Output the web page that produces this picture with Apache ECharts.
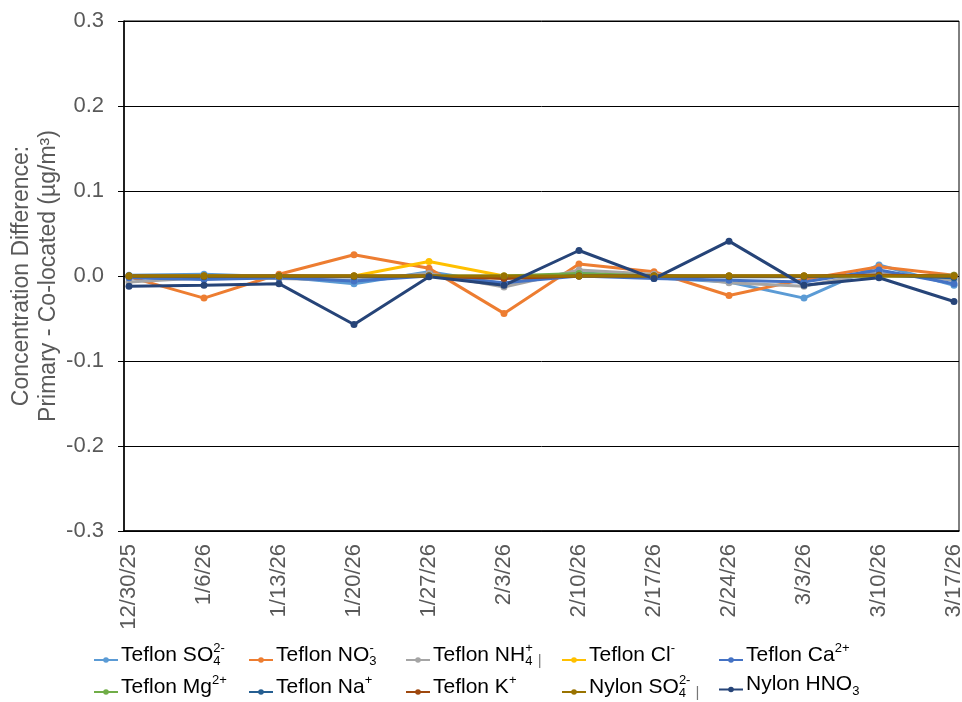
<!DOCTYPE html>
<html>
<head>
<meta charset="utf-8">
<script src="https://cdn.jsdelivr.net/npm/echarts@6/dist/echarts.min.js"></script>
<style>
  html, body { margin: 0; padding: 0; background: #fff; }
  #chart { width: 962px; height: 702px; }
</style>
</head>
<body>
<div id="chart"></div>
<script>
// Sampling dates (weekly)
const dates = ['12/30/25', '1/6/26', '1/13/26', '1/20/26', '1/27/26', '2/3/26',
               '2/10/26', '2/17/26', '2/24/26', '3/3/26', '3/10/26', '3/17/26'];

// Primary minus co-located concentration differences (µg/m³)
const teflonSO4 = [0.001, 0.002, -0.001, -0.009, 0.005, -0.009, 0.004, -0.002, -0.007, -0.026, 0.013, -0.011];
const teflonNO3 = [-0.001, -0.026, 0.002, 0.025, 0.009, -0.044, 0.014, 0.005, -0.023, -0.004, 0.011, 0.001];
const teflonNH4 = [-0.007, -0.002, -0.003, -0.005, 0.003, -0.013, 0.007, 0.002, -0.008, -0.012, 0.005, -0.005];
const teflonCl  = [0, 0, 0, 0, 0.017, 0, 0, 0, 0, 0, 0, 0];
const teflonCa  = [-0.002, -0.004, -0.002, -0.006, 0, -0.008, 0, -0.003, -0.005, -0.007, 0.007, -0.009];
const teflonMg  = [0, 0, 0, 0, 0, 0, 0.003, 0, 0, 0, 0, 0.001];
const teflonNa  = [0, -0.001, 0, -0.001, 0, -0.002, 0, 0, -0.001, -0.001, 0.001, -0.002];
const teflonK   = [0, 0, 0, 0, 0, -0.003, 0, 0, 0, 0, 0.001, 0];
const nylonSO4  = [0, 0, 0, 0, 0, 0, 0, 0, 0, 0, 0, 0];
const nylonHNO3 = [-0.012, -0.011, -0.009, -0.057, -0.001, -0.011, 0.030, -0.003, 0.041, -0.011, -0.002, -0.030];

// Y-axis tick range
const yTicks = [-0.3, -0.2, -0.1, 0.0, 0.1, 0.2, 0.3];

const FONT = '"Liberation Sans", Arial, sans-serif';

// Series definitions: key, rich-text legend label (subscript stacked under superscript), colour, values
const seriesDefs = [
  { name: 'Teflon SO4',  label: '{t|Teflon SO}{sub|4}{sup|2-}',  color: '#5B9BD5', data: teflonSO4 },
  { name: 'Teflon NO3',  label: '{t|Teflon NO}{sub|3}{sup|-}',   color: '#ED7D31', data: teflonNO3 },
  { name: 'Teflon NH4',  label: '{t|Teflon NH}{sub|4}{sup|+}{bar||}', color: '#A5A5A5', data: teflonNH4 },
  { name: 'Teflon Cl',   label: '{t|Teflon Cl}{sup|-}',           color: '#FFC000', data: teflonCl },
  { name: 'Teflon Ca',   label: '{t|Teflon Ca}{sup|2+}',          color: '#4472C4', data: teflonCa },
  { name: 'Teflon Mg',   label: '{t|Teflon Mg}{sup|2+}',          color: '#70AD47', data: teflonMg },
  { name: 'Teflon Na',   label: '{t|Teflon Na}{sup|+}',           color: '#255E91', data: teflonNa },
  { name: 'Teflon K',    label: '{t|Teflon K}{sup|+}',            color: '#9E480E', data: teflonK },
  { name: 'Nylon SO4',   label: '{t|Nylon SO}{sub|4}{sup|2-}{bar||}', color: '#997300', data: nylonSO4 },
  { name: 'Nylon HNO3',  label: '{t|Nylon HNO}{sub|3}',           color: '#264478', data: nylonHNO3 }
];
const labelMap = {};
seriesDefs.forEach(d => { labelMap[d.name] = d.label; });

const rich = {
  t:   { fontFamily: FONT, fontSize: 21, color: '#000', lineHeight: 26, verticalAlign: 'middle' },
  // zero-advance subscript so the following superscript sits directly above it
  sub: { fontFamily: FONT, fontSize: 13, color: '#000', lineHeight: 13, verticalAlign: 'bottom', width: 0.01 },
  sup: { fontFamily: FONT, fontSize: 13, color: '#000', lineHeight: 13, verticalAlign: 'top' },
  bar: { fontFamily: FONT, fontSize: 15, color: '#777', lineHeight: 15, verticalAlign: 'bottom', padding: [0, 0, 0, 5] }
};

// Legend: one entry per slot, five columns by two rows
const colLeft = [93, 248, 405, 561, 718];
const rowTop = [642, 674];
const legends = seriesDefs.map((d, i) => ({
  left: colLeft[i % 5],
  top: rowTop[Math.floor(i / 5)],
  padding: 0,
  itemWidth: 24,
  itemHeight: 7,
  itemGap: 0,
  data: [d.name],
  formatter: n => labelMap[n],
  textStyle: { rich: rich, padding: [0, 0, 10, -2] }
}));

const option = {
  animation: false,
  backgroundColor: '#fff',
  grid: {
    left: 124, right: 3, top: 21, bottom: 171,
    containLabel: false,
    outerBoundsMode: 'none',
    show: true, borderColor: '#000', borderWidth: 1
  },
  legend: legends,
  xAxis: {
    type: 'value',
    min: -1 / 15,
    max: dates.length - 1 + 1 / 15,
    axisLine: { show: true, onZero: false, lineStyle: { color: '#000', width: 1.5 } },
    axisTick: { show: false },
    splitLine: { show: false },
    axisLabel: {
      customValues: dates.map((d, i) => i),
      formatter: v => dates[Math.round(v)],
      rotate: 90,
      margin: 13,
      fontFamily: FONT,
      fontSize: 22,
      color: '#595959'
    }
  },
  yAxis: {
    type: 'value',
    min: yTicks[0],
    max: yTicks[yTicks.length - 1],
    interval: 0.1,
    name: 'Concentration Difference:\nPrimary - Co-located (µg/m³)',
    nameLocation: 'middle',
    nameGap: 62,
    nameMoveOverlap: false,
    nameTextStyle: { fontFamily: FONT, fontSize: 23, color: '#595959', lineHeight: 27 },
    axisLine: { show: true, onZero: false, lineStyle: { color: '#000', width: 1.5 } },
    axisTick: { show: true, length: 6, lineStyle: { color: '#000' } },
    splitLine: { show: true, lineStyle: { color: '#000', width: 1 } },
    axisLabel: {
      formatter: v => (Math.round(v * 10) / 10).toFixed(1),
      margin: 20,
      fontFamily: FONT,
      fontSize: 22,
      color: '#595959'
    }
  },
  series: seriesDefs.map(d => ({
    name: d.name,
    type: 'line',
    data: d.data.map((v, i) => [i, v]),
    symbol: 'circle',
    symbolSize: 7,
    color: d.color,
    lineStyle: { width: 3, color: d.color },
    itemStyle: { color: d.color }
  }))
};

echarts.init(document.getElementById('chart'), null, { renderer: 'canvas' }).setOption(option);
</script>
</body>
</html>
